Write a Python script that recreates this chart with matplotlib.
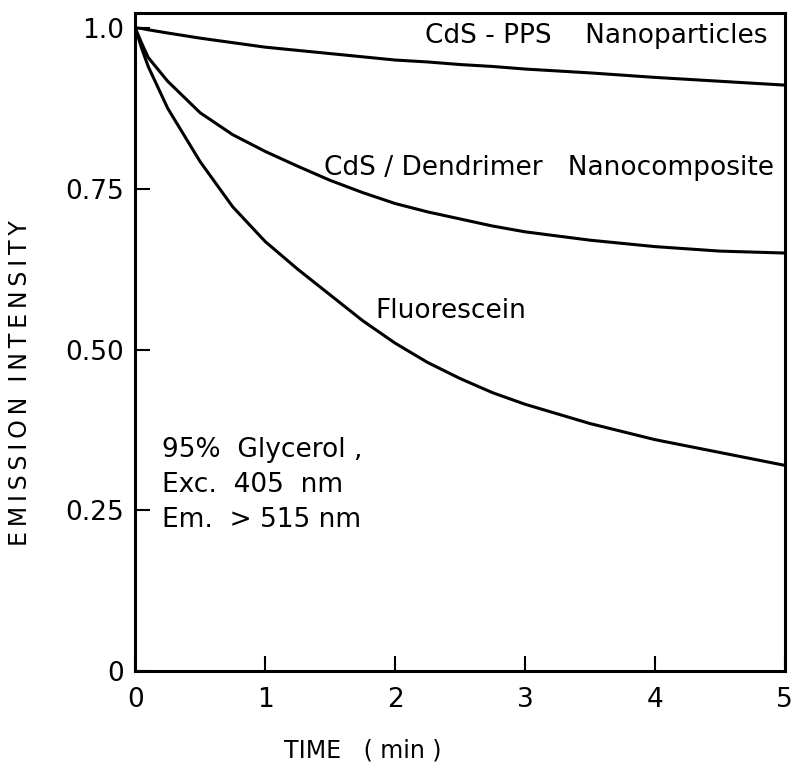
import numpy as np
import matplotlib.pyplot as plt

# values
t = [0, 0.05, 0.1, 0.25, 0.5, 0.75, 1.0, 1.25, 1.5, 1.75, 2.0, 2.25, 2.5, 2.75, 3.0, 3.5, 4.0, 4.5, 5.0]
pps = [1.0, 0.999, 0.997, 0.992, 0.984, 0.977, 0.970, 0.965, 0.960, 0.955, 0.950, 0.947, 0.943, 0.940, 0.936,
       0.930, 0.923, 0.917, 0.911]
dendrimer = [1.0, 0.976, 0.954, 0.917, 0.868, 0.834, 0.808, 0.785, 0.763, 0.744, 0.727, 0.714, 0.703, 0.692,
             0.683, 0.670, 0.660, 0.653, 0.650]
fluorescein = [1.0, 0.968, 0.94, 0.875, 0.792, 0.722, 0.668, 0.625, 0.585, 0.545, 0.51, 0.48, 0.455, 0.433,
               0.415, 0.385, 0.36, 0.34, 0.32]

xticks = [0, 1, 2, 3, 4, 5]
yticks = [0, 0.25, 0.5, 0.75, 1.0]
ylabels = ['0', '0.25', '0.50', '0.75', '1.0']

plt.rcParams['font.family'] = 'DejaVu Sans'

fig = plt.figure(figsize=(8, 7.68), dpi=100)
ax = fig.add_axes([0.169, 0.126, 0.812, 0.857])

for y in [pps, dendrimer, fluorescein]:
    ax.plot(t, y, color='black', lw=2.2, solid_capstyle='round', solid_joinstyle='round')

ax.set_xlim(0, 5)
ax.set_ylim(0, 1.023)
ax.set_xticks(xticks)
ax.set_xticklabels([str(x) for x in xticks])
ax.set_yticks(yticks)
ax.set_yticklabels(ylabels)
ax.tick_params(direction='in', length=11, width=1.5, labelsize=19, color='black')
ax.tick_params(axis='x', pad=11)
ax.tick_params(axis='y', pad=8)

for s in ax.spines.values():
    s.set_linewidth(2.2)

# axis titles (offset like the original)
thin = '\u2009'
ylab = thin.join('EMISSION') + '  ' + thin.join('INTENSITY')
ax.text(-0.178, 0.438, ylab, fontsize=17, rotation=90, ha='center', va='center',
        transform=ax.transAxes)
ax.text(0.35, -0.12, 'TIME   ( min )', fontsize=17, ha='center', va='center',
        transform=ax.transAxes)

ax.text(4.87, 0.977, 'CdS - PPS    Nanoparticles', fontsize=19, ha='right', va='baseline')
ax.text(4.92, 0.771, 'CdS / Dendrimer   Nanocomposite', fontsize=19, ha='right', va='baseline')
ax.text(1.846, 0.549, 'Fluorescein', fontsize=19, ha='left', va='baseline')
ax.text(0.208, 0.333, '95%  Glycerol ,', fontsize=19, ha='left', va='baseline')
ax.text(0.208, 0.279, 'Exc.  405  nm', fontsize=19, ha='left', va='baseline')
ax.text(0.208, 0.224, 'Em.  > 515 nm', fontsize=19, ha='left', va='baseline')

fig.savefig('out.png', dpi=100)
